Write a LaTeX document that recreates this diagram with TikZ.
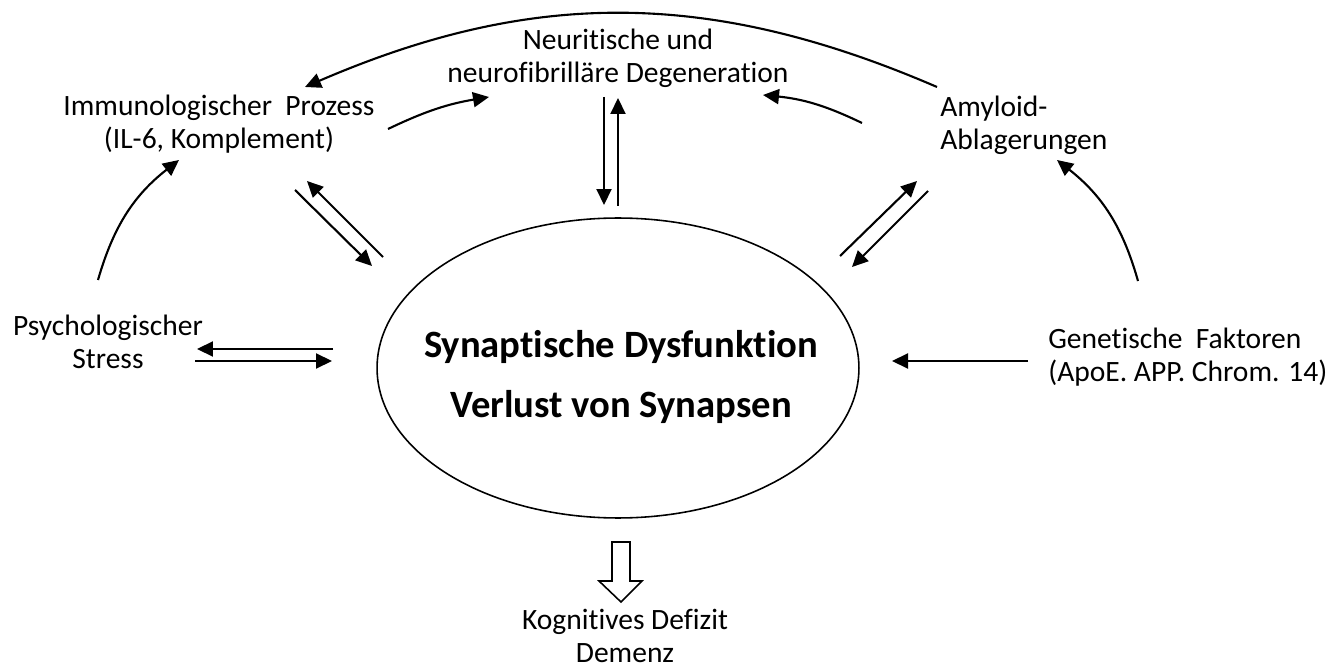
\documentclass[tikz,border=0pt]{standalone}
\usepackage{fontspec}
\setmainfont{Carlito}[Ligatures={NoCommon}]
\usetikzlibrary{arrows.meta,shapes.geometric}
\tikzset{
  txt/.style={
    align=center,
    inner sep=0pt,
    font=\fontsize{16.8}{18.8}\selectfont
  },
  txtleft/.style={
    txt,
    align=left
  },
  core/.style={
    draw,
    ellipse,
    line width=0.9pt,
    minimum width=9.64cm,
    minimum height=6cm
  },
  coretxt/.style={
    align=center,
    inner sep=0pt,
    font=\fontsize{22}{34}\bfseries\selectfont
  },
  flow/.style={
    -{Triangle[length=0.32cm,width=0.3cm]},
    line width=1.2pt
  },
  blockarrow/.style={
    draw,
    line width=0.9pt,
    line join=miter
  }
}

\begin{document}
\begin{tikzpicture}[x=0.02cm,y=-0.02cm]
  \useasboundingbox (0,0) rectangle (1333,672);

  \node[core] (core) at (618,368) {};
  \node[coretxt] (coretext) at (621,377) {Synaptische Dysfunktion\\Verlust von Synapsen};
  \node[txt] (neur) at (618,58) {Neuritische und\\neurofibrilläre Degeneration};
  \node[txt] (immun) at (219,124) {Immunologischer\ \ Prozess\\(IL-6, Komplement)};
  \node[txtleft, anchor=west] (amyl) at (940,125) {Amyloid-\\Ablagerungen};
  \node[txt] (psych) at (108,342) {Psychologischer\\Stress};
  \node[txtleft, anchor=west] (genet) at (1048,357) {Genetische\ \ Faktoren\\(ApoE. APP. Chrom. 14)};
  \node[txt] (kogn) at (625,636) {Kognitives Defizit\\Demenz};

  % connector ends
  \coordinate (arcA) at (937,87);
  \coordinate (arcI) at (305,87);
  \coordinate (immunR) at (388,129);
  \coordinate (neurL) at (489,97);
  \coordinate (amylL) at (862,123);
  \coordinate (neurR) at (763,95);
  \coordinate (neurDn) at (604,97);
  \coordinate (coreDn) at (604,205);
  \coordinate (coreUp) at (618,206);
  \coordinate (neurUp) at (618,98);
  \coordinate (psychU) at (98,280);
  \coordinate (immunB) at (179,160);
  \coordinate (immunD1) at (295,190);
  \coordinate (coreI1) at (372,266);
  \coordinate (coreI2) at (383,257);
  \coordinate (immunD2) at (307,181);
  \coordinate (coreA1) at (840,256);
  \coordinate (amylD1) at (917,181);
  \coordinate (amylD2) at (928,191);
  \coordinate (coreA2) at (852,267);
  \coordinate (genetU) at (1138,281);
  \coordinate (amylB) at (1057,160);
  \coordinate (coreP1) at (333,349);
  \coordinate (psychR1) at (197,349);
  \coordinate (psychR2) at (195,361);
  \coordinate (coreP2) at (332,361);
  \coordinate (genetL) at (1028,361);
  \coordinate (coreG) at (892,361);
  \coordinate (blk) at (621,542);

  \draw[flow] (arcA) .. controls (710,-11) and (532,-11) .. (arcI);
  \draw[flow] (immunR) to[bend left=8] (neurL);
  \draw[flow] (amylL) to[bend right=10] (neurR);
  \draw[flow] (neurDn) -- (coreDn);
  \draw[flow] (coreUp) -- (neurUp);
  \draw[flow] (psychU) to[bend left=18] (immunB);
  \draw[flow] (immunD1) -- (coreI1);
  \draw[flow] (coreI2) -- (immunD2);
  \draw[flow] (coreA1) -- (amylD1);
  \draw[flow] (amylD2) -- (coreA2);
  \draw[flow] (genetU) to[bend right=18] (amylB);
  \draw[flow] (coreP1) -- (psychR1);
  \draw[flow] (psychR2) -- (coreP2);
  \draw[flow] (genetL) -- (coreG);

  \draw[blockarrow] (blk) ++(-9,0) -- ++(0,39) -- ++(-13,0) -- ++(22,21)
    -- ++(21,-21) -- ++(-12,0) -- ++(0,-39) -- cycle;
\end{tikzpicture}
\end{document}
